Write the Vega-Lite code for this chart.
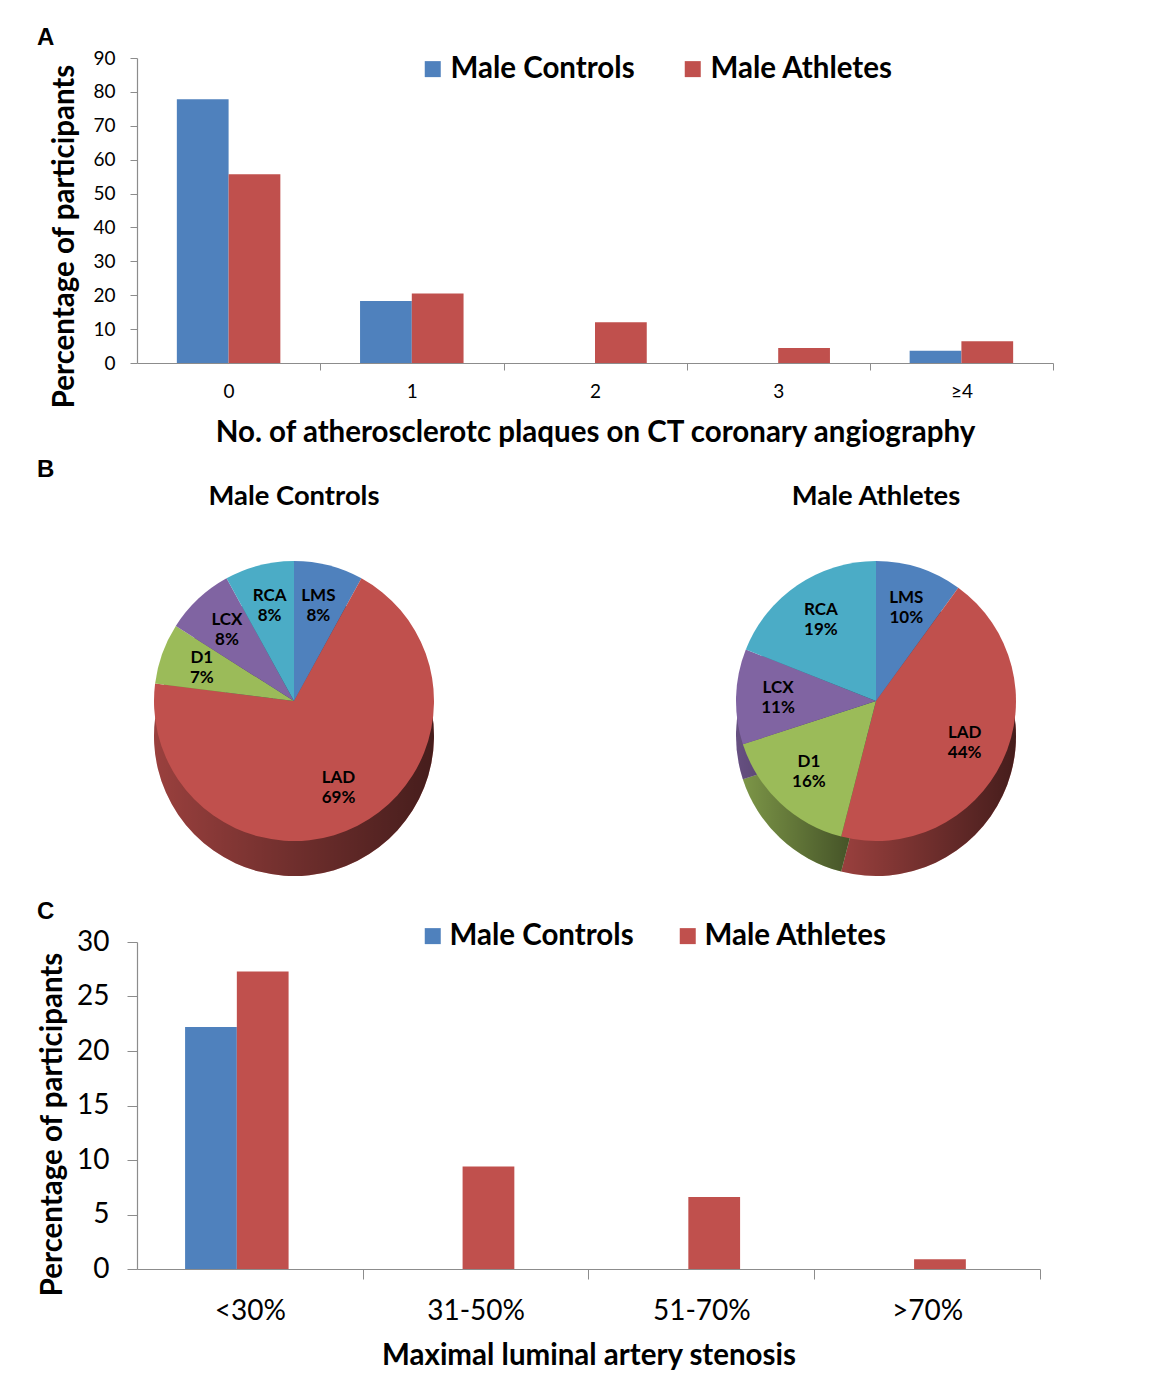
{
  "$schema": "https://vega.github.io/schema/vega-lite/v6.json",
  "background": "white",
  "padding": {"left": 37, "top": 26, "right": 5, "bottom": 5},
  "columns": 1,
  "spacing": 10,
  "bounds": "full",
  "datasets": {
    "plaques": [
      {"plaques": "0", "group": "Male Controls", "pct": 77.8},
      {"plaques": "0", "group": "Male Athletes", "pct": 55.7},
      {"plaques": "1", "group": "Male Controls", "pct": 18.3},
      {"plaques": "1", "group": "Male Athletes", "pct": 20.5},
      {"plaques": "2", "group": "Male Controls", "pct": 0},
      {"plaques": "2", "group": "Male Athletes", "pct": 12.0},
      {"plaques": "3", "group": "Male Controls", "pct": 0},
      {"plaques": "3", "group": "Male Athletes", "pct": 4.4},
      {"plaques": "≥4", "group": "Male Controls", "pct": 3.6},
      {"plaques": "≥4", "group": "Male Athletes", "pct": 6.4}
    ],
    "vessels": [
      {"panel": "Male Controls", "vessel": "LMS", "share": 0.08, "order": 1},
      {"panel": "Male Controls", "vessel": "LAD", "share": 0.69, "order": 2},
      {"panel": "Male Controls", "vessel": "D1", "share": 0.07, "order": 3},
      {"panel": "Male Controls", "vessel": "LCX", "share": 0.08, "order": 4},
      {"panel": "Male Controls", "vessel": "RCA", "share": 0.08, "order": 5},
      {"panel": "Male Athletes", "vessel": "LMS", "share": 0.10, "order": 1},
      {"panel": "Male Athletes", "vessel": "LAD", "share": 0.44, "order": 2},
      {"panel": "Male Athletes", "vessel": "D1", "share": 0.16, "order": 3},
      {"panel": "Male Athletes", "vessel": "LCX", "share": 0.11, "order": 4},
      {"panel": "Male Athletes", "vessel": "RCA", "share": 0.19, "order": 5}
    ],
    "stenosis": [
      {"stenosis": "<30%", "group": "Male Controls", "pct": 22.2},
      {"stenosis": "<30%", "group": "Male Athletes", "pct": 27.3},
      {"stenosis": "31-50%", "group": "Male Controls", "pct": 0},
      {"stenosis": "31-50%", "group": "Male Athletes", "pct": 9.4},
      {"stenosis": "51-70%", "group": "Male Controls", "pct": 0},
      {"stenosis": "51-70%", "group": "Male Athletes", "pct": 6.6},
      {"stenosis": ">70%", "group": "Male Controls", "pct": 0},
      {"stenosis": ">70%", "group": "Male Athletes", "pct": 0.9}
    ]
  },
  "concat": [
    {
      "title": {"text": "A", "anchor": "start", "frame": "group", "dx": -100, "offset": -1, "fontSize": 24, "font": "Liberation Sans", "fontWeight": "bold", "color": "black"},
      "width": 916,
      "height": 305,
      "data": {"name": "plaques"},
      "mark": {"type": "bar"},
      "encoding": {
        "x": {
          "field": "plaques", "type": "nominal", "sort": ["0", "1", "2", "3", "≥4"],
          "scale": {"paddingInner": 0.435, "paddingOuter": 0.2175},
          "axis": {
            "title": "No. of atherosclerotc plaques on CT coronary angiography",
            "labelAngle": 0, "labelFontSize": 19, "labelFont": "Lato", "labelPadding": 12,
            "tickSize": 7, "bandPosition": 1, "tickOffset": 40, "labelOffset": -40,
            "titleFontSize": 29.5, "titleFont": "Lato", "titleFontWeight": "bold", "titlePadding": 17
          }
        },
        "xOffset": {"field": "group", "type": "nominal", "sort": ["Male Controls", "Male Athletes"], "scale": {"paddingInner": 0, "paddingOuter": 0}},
        "y": {
          "field": "pct", "type": "quantitative",
          "scale": {"domain": [0, 90], "nice": false},
          "axis": {
            "title": "Percentage of participants", "values": [0, 10, 20, 30, 40, 50, 60, 70, 80, 90],
            "labelFontSize": 19, "labelFont": "Lato", "labelPadding": 15, "tickSize": 7,
            "titleFontSize": 29.5, "titleFont": "Lato", "titleFontWeight": "bold", "titlePadding": 13, "titleY": 178
          }
        },
        "color": {
          "field": "group", "type": "nominal",
          "scale": {"domain": ["Male Controls", "Male Athletes"], "range": ["#4F81BD", "#C0504D"]},
          "legend": {
            "orient": "none", "legendX": 281, "legendY": -4, "direction": "horizontal", "title": null,
            "symbolType": "square", "symbolSize": 256, "symbolStrokeWidth": 0, "symbolOpacity": 1,
            "labelFontSize": 29.5, "labelFont": "Lato", "labelFontWeight": "bold", "labelColor": "black",
            "labelOffset": 3, "columnPadding": 43, "padding": 0, "labelLimit": 400
          }
        }
      }
    },
    {
      "title": {"text": "B", "anchor": "start", "frame": "bounds", "dx": -100, "offset": 1, "fontSize": 24, "font": "Liberation Sans", "fontWeight": "bold", "color": "black"},
      "data": {"name": "vessels"},
      "facet": {
        "column": {
          "field": "panel", "type": "nominal", "sort": ["Male Controls", "Male Athletes"],
          "header": {"title": null, "labelFontSize": 27.4, "labelFont": "Lato", "labelFontWeight": "bold", "labelColor": "black", "labelPadding": 2}
        }
      },
      "spacing": 268,
      "spec": {
        "width": 314,
        "height": 378,
        "encoding": {
          "theta": {"field": "share", "type": "quantitative", "stack": true},
          "order": {"field": "order", "type": "quantitative"},
          "detail": {"field": "vessel", "type": "nominal"}
        },
        "layer": [
          {
            "mark": {"type": "arc", "radius": 140, "yOffset": 35},
            "encoding": {
              "color": {"field": "vessel", "type": "nominal", "scale": {"domain": ["LMS", "LAD", "D1", "LCX", "RCA"], "range": ["#4F81BD", "#C0504D", "#9BBB59", "#8064A2", "#4BACC6"]}, "legend": null}
            }
          },
          {
            "mark": {
              "type": "arc", "radius": 140, "yOffset": 35,
              "fill": {"gradient": "linear", "x1": 0, "y1": 0, "x2": 1, "y2": 0, "stops": [{"offset": 0, "color": "rgba(0,0,0,0.2)"}, {"offset": 1, "color": "rgba(0,0,0,0.64)"}]}
            }
          },
          {
            "mark": {"type": "arc", "radius": 140},
            "encoding": {
              "color": {"field": "vessel", "type": "nominal", "scale": {"domain": ["LMS", "LAD", "D1", "LCX", "RCA"], "range": ["#4F81BD", "#C0504D", "#9BBB59", "#8064A2", "#4BACC6"]}, "legend": null}
            }
          },
          {
            "mark": {"type": "text", "radius": 98, "dy": -10, "font": "Lato", "fontSize": 17, "fontWeight": "bold", "color": "black"},
            "encoding": {"text": {"field": "vessel", "type": "nominal"}}
          },
          {
            "mark": {"type": "text", "radius": 98, "dy": 10, "font": "Lato", "fontSize": 17, "fontWeight": "bold", "color": "black"},
            "encoding": {"text": {"field": "share", "type": "quantitative", "format": ".0%"}}
          }
        ]
      }
    },
    {
      "title": {"text": "C", "anchor": "start", "frame": "group", "dx": -100, "offset": -3, "fontSize": 24, "font": "Liberation Sans", "fontWeight": "bold", "color": "black"},
      "width": 903,
      "height": 327,
      "data": {"name": "stenosis"},
      "mark": {"type": "bar"},
      "encoding": {
        "x": {
          "field": "stenosis", "type": "nominal", "sort": ["<30%", "31-50%", "51-70%", ">70%"],
          "scale": {"paddingInner": 0.426, "paddingOuter": 0.213},
          "axis": {
            "title": "Maximal luminal artery stenosis",
            "labelAngle": 0, "labelFontSize": 28, "labelFont": "Lato", "labelPadding": 18,
            "tickSize": 10, "bandPosition": 1, "tickOffset": 48, "labelOffset": -48,
            "titleFontSize": 29.5, "titleFont": "Lato", "titleFontWeight": "bold", "titlePadding": 16
          }
        },
        "xOffset": {"field": "group", "type": "nominal", "sort": ["Male Controls", "Male Athletes"], "scale": {"paddingInner": 0, "paddingOuter": 0}},
        "y": {
          "field": "pct", "type": "quantitative",
          "scale": {"domain": [0, 30], "nice": false},
          "axis": {
            "title": "Percentage of participants", "values": [0, 5, 10, 15, 20, 25, 30],
            "labelFontSize": 28, "labelFont": "Lato", "labelPadding": 18, "tickSize": 10,
            "titleFontSize": 29.5, "titleFont": "Lato", "titleFontWeight": "bold", "titlePadding": 9, "titleY": 182
          }
        },
        "color": {
          "field": "group", "type": "nominal",
          "scale": {"domain": ["Male Controls", "Male Athletes"], "range": ["#4F81BD", "#C0504D"]},
          "legend": {
            "orient": "none", "legendX": 281, "legendY": -21, "direction": "horizontal", "title": null,
            "symbolType": "square", "symbolSize": 256, "symbolStrokeWidth": 0, "symbolOpacity": 1,
            "labelFontSize": 29.5, "labelFont": "Lato", "labelFontWeight": "bold", "labelColor": "black",
            "labelOffset": 2, "columnPadding": 39, "padding": 0, "labelLimit": 400
          }
        }
      }
    }
  ],
  "resolve": {"scale": {"color": "independent"}, "legend": {"color": "independent"}},
  "config": {
    "view": {"stroke": null},
    "font": "Lato",
    "axis": {"domainColor": "#8c8c8c", "tickColor": "#8c8c8c", "labelColor": "black", "titleColor": "black", "grid": false, "domainWidth": 1.2}
  }
}
